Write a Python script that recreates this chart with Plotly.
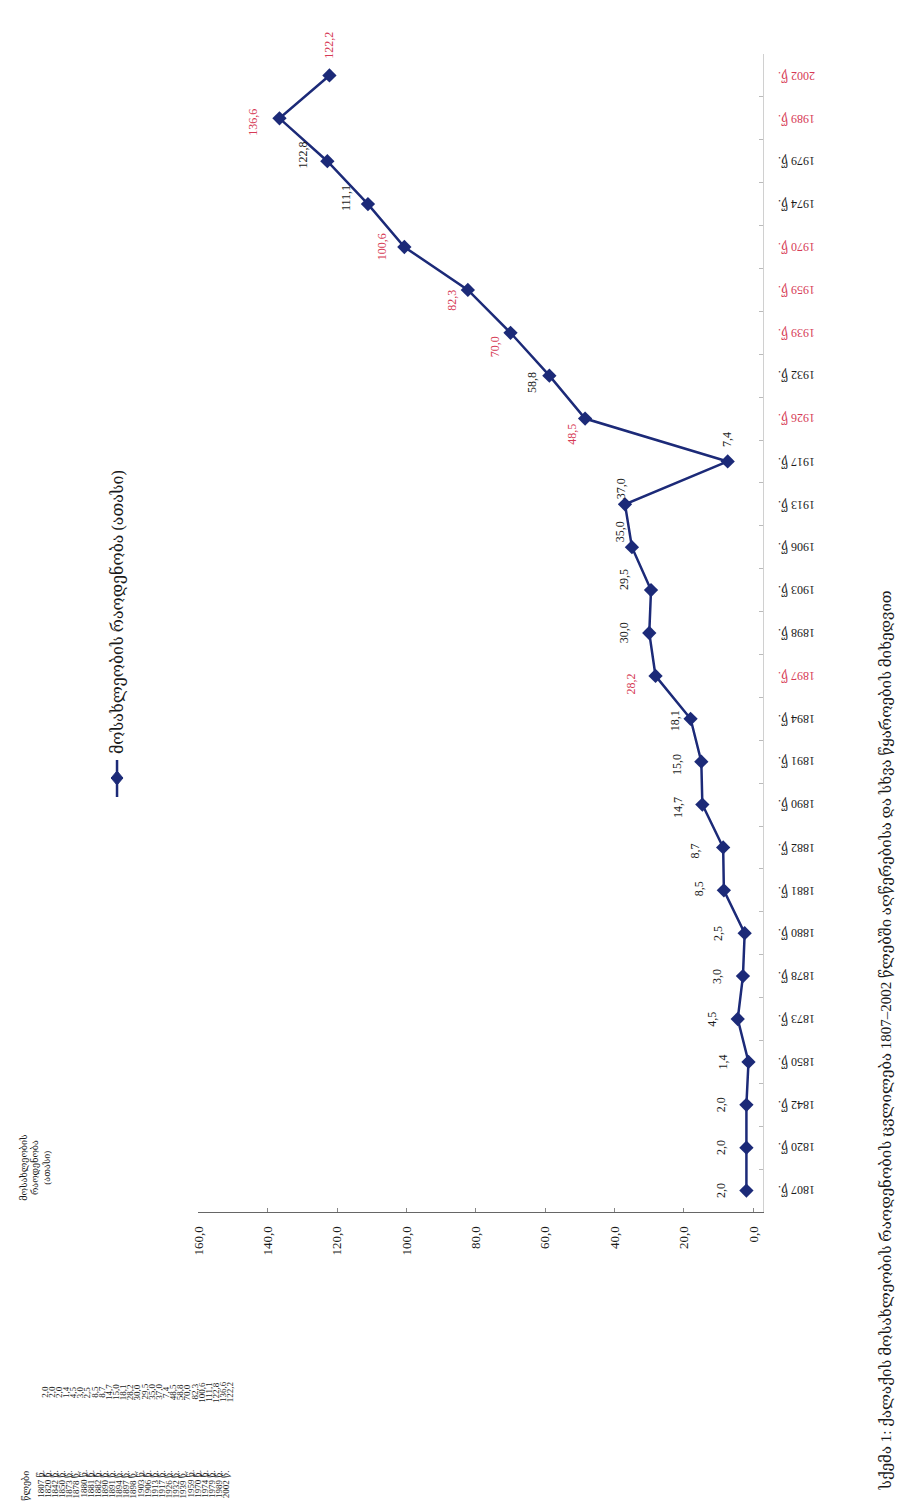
import plotly.graph_objects as go

# Population of the city (thousands), by year
years = [1807, 1820, 1842, 1850, 1873, 1878, 1880, 1881, 1882, 1890, 1891, 1894,
         1897, 1898, 1903, 1906, 1913, 1917, 1926, 1932, 1939, 1959, 1970, 1974,
         1979, 1989, 2002]
population = [2.0, 2.0, 2.0, 1.4, 4.5, 3.0, 2.5, 8.5, 8.7, 14.7, 15.0, 18.1,
              28.2, 30.0, 29.5, 35.0, 37.0, 7.4, 48.5, 58.8, 70.0, 82.3, 100.6, 111.1,
              122.8, 136.6, 122.2]
census_years = [1897, 1926, 1939, 1959, 1970, 1989, 2002]
value_ticks = [0, 20, 40, 60, 80, 100, 120, 140, 160]

series_name = "მოსახლეობის რაოდენობა (ათასი)"
table_year_header = "წლები"
table_value_header = "მოსახლეობის<br>რაოდენობა<br>(ათასი)"
caption = ("სქემა 1: ქალაქის მოსახლეობის რაოდენობის ცვლილება 1807–2002 წლებში "
           "აღწერებისა და სხვა წყაროების მიხედვით")

# label offsets (px) for the rotated value labels: (dx, dy), dy positive = down
label_offsets = {
    2002: (0, -30), 1989: (-26, 4), 1979: (-24, -6), 1974: (-22, -6),
    1970: (-22, 0), 1959: (-16, 10), 1939: (-16, 14), 1932: (-18, 7),
    1926: (-14, 16), 1917: (0, -22), 1913: (-4, -16), 1906: (-12, -16),
    1903: (-27, -10), 1898: (-25, 0), 1897: (-25, 8), 1894: (-16, 2),
    1891: (-25, 3), 1890: (-25, 3), 1882: (-28, 4), 1881: (-25, -2),
}

W, H = 906, 1508
SERIF = "Liberation Serif, DejaVu Serif, serif"
LINE = "#1c2a78"
RED = "#d63a55"
DARK = "#1a1a1a"


def fmt(v):
    return f"{v:.1f}".replace(".", ",")


def px(x):
    return x / W


def py(y):
    return 1 - y / H


def note(x, y, text, size, angle=-90, color=DARK, xref="paper", yref="paper", **kw):
    return dict(x=x, y=y, xref=xref, yref=yref, text=text, showarrow=False,
                textangle=angle, xanchor=kw.pop("xanchor", "center"),
                yanchor=kw.pop("yanchor", "middle"),
                font=dict(family=SERIF, size=size, color=color), **kw)


cats = [str(y) for y in years]

fig = go.Figure()
fig.add_trace(go.Scatter(
    x=population, y=cats, mode="lines+markers",
    line=dict(color=LINE, width=2.5),
    marker=dict(symbol="diamond", size=11, color=LINE),
    showlegend=False, hoverinfo="x+y",
))

annotations = []
# rotated value labels next to each point (category index on the y axis)
for i, (yr, v) in enumerate(zip(years, population)):
    dx, dy = label_offsets.get(yr, (-26, 0))
    annotations.append(note(v, i, fmt(v), 12, xref="x", yref="y",
                            color=RED if yr in census_years else DARK,
                            xshift=dx, yshift=-dy))
# year labels along the category axis (upside down)
for i, yr in enumerate(years):
    annotations.append(note(px(795), i, f"{yr} წ.", 12, angle=180, yref="y",
                            color=RED if yr in census_years else DARK))

# legend entry
annotations.append(note(px(110), py(756), series_name, 16, yanchor="bottom"))

# caption along the right edge
annotations.append(note(px(885), py(1492), caption, 15, yanchor="bottom"))

# small data table in the lower-left corner
annotations.append(note(px(18), py(1486), table_year_header, 9))
annotations.append(note(px(27), py(1168), table_value_header, 9))
for i, (yr, v) in enumerate(zip(years, population)):
    xx = 33 + i * 7.2
    annotations.append(note(px(xx), py(1484), f"{yr} წ.", 9))
    annotations.append(note(px(xx + 4), py(1392), fmt(v), 9))

shapes = [
    dict(type="line", xref="paper", yref="paper", x0=px(110), x1=px(110),
         y0=py(760), y1=py(797), line=dict(color=LINE, width=2.5)),
    dict(type="path", xref="paper", yref="paper",
         path=(f"M {px(110)} {py(771)} L {px(116)} {py(778)} "
               f"L {px(110)} {py(785)} L {px(104)} {py(778)} Z"),
         fillcolor=LINE, line=dict(color=LINE, width=1)),
]

fig.update_layout(
    width=W, height=H, margin=dict(l=0, r=0, t=0, b=0),
    paper_bgcolor="white", plot_bgcolor="white",
    annotations=annotations, shapes=shapes,
    xaxis=dict(
        domain=[px(192), px(762)], range=[160, -2.86],
        tickvals=value_ticks, ticktext=[fmt(t) for t in value_ticks],
        tickangle=-90, tickfont=dict(family=SERIF, size=13, color=DARK),
        ticklabelstandoff=8,
        showline=True, linecolor="#666", linewidth=1,
        ticks="inside", ticklen=4, tickcolor="#888",
        showgrid=False, zeroline=False,
    ),
    yaxis=dict(
        domain=[py(1212), py(54)], type="category", side="right",
        categoryorder="array", categoryarray=cats, range=[-0.5, 26.5],
        showticklabels=False, showline=True, linecolor="#d0d0d0",
        ticks="inside", tickson="boundaries", ticklen=4, tickcolor="#bbb",
        showgrid=False, zeroline=False,
    ),
)

fig.write_html("out.html")
